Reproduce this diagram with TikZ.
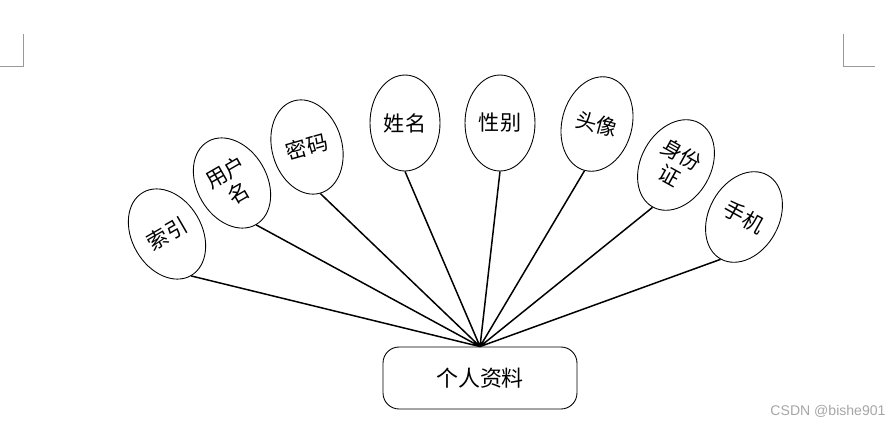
\documentclass[tikz,border=0pt]{standalone}
\usepackage{fontspec}
\newfontfamily\cjk{Noto Sans CJK SC}
\newfontfamily\wmfont{Liberation Sans}
\usepackage{tikz}
\usetikzlibrary{shapes.geometric}

\begin{document}
\begin{tikzpicture}[x=0.02cm,y=-0.02cm,line width=0.85pt,
 attr/.style={draw,ellipse,line width=0.5pt,inner sep=0pt,minimum width=1.4cm,minimum height=1.92cm,
  font=\cjk\fontsize{12}{14}\selectfont,align=center},
 entity/.style={draw,line width=0.5pt,rounded corners=0.32cm,minimum width=3.88cm,minimum height=1.24cm,
  font=\cjk\fontsize{12.5}{15}\selectfont}]
\useasboundingbox (0,0) rectangle (895,426);
% page corner marks
\draw[gray!80,line width=0.5pt](0,66)--(23,66)--(23,34)(843,34)--(843,66)--(875,66);
\node[entity](info) at (480,378){个人资料};
\node[attr,rotate=30](idx) at (167,234){索引};
\node[attr,rotate=30](user) at (232,183){用户\\名};
\node[attr,rotate=16](pwd) at (307,147){密码};
\node[attr](name) at (405,123){姓名};
\node[attr](sex) at (500,123){性别};
\node[attr,rotate=-15](pic) at (597,124){头像};
\node[attr,rotate=-29](card) at (676,165){身份\\证};
\node[attr,rotate=-29](phone) at (744,217){手机};
\draw(idx.south)--(info.north)(user.south)--(info.north)(pwd.south)--(info.north)
(name.south)--(info.north)(sex.south)--(info.north)(pic.south)--(info.north)
(card.south)--(info.north)(phone.south)--(info.north);
\node[gray!70,font=\wmfont\fontsize{8}{10}\selectfont](wm) at (828,411){CSDN @bishe901};
\end{tikzpicture}
\end{document}
